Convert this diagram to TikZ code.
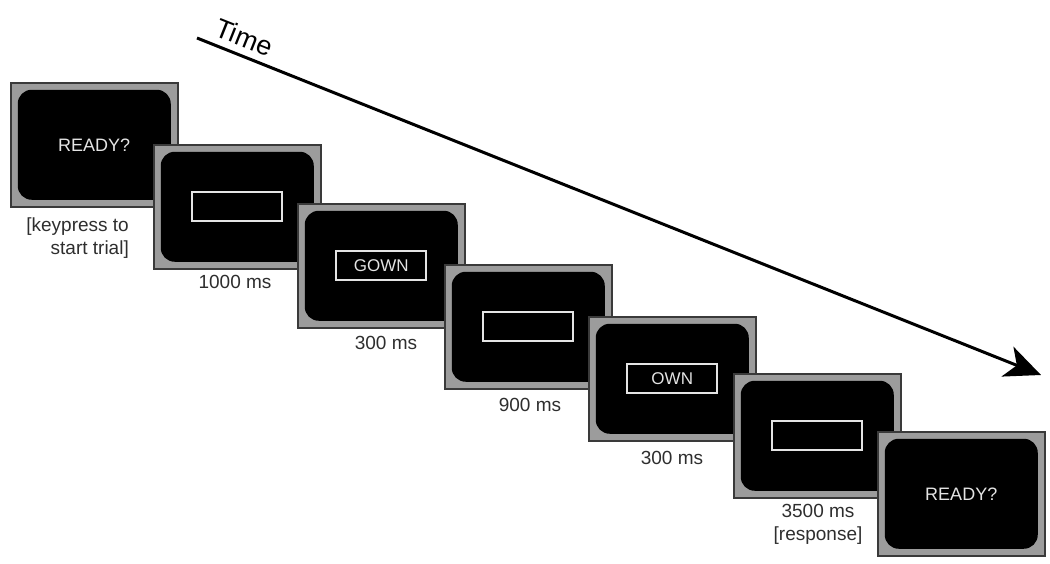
\documentclass[tikz,border=0pt]{standalone}
\usepackage{fontspec}
\setmainfont{Liberation Sans}
\usetikzlibrary{arrows.meta}
\definecolor{framegray}{HTML}{9C9C9C}
\definecolor{edgegray}{HTML}{3A3A3A}
\definecolor{labelgray}{HTML}{2E2E2E}
\definecolor{screentext}{HTML}{E4E4E4}
\tikzset{
  screen/.style={draw=edgegray, line width=1.5pt, fill=framegray, minimum width=167pt, minimum height=124pt, inner sep=0pt, anchor=north west},
  innerscreen/.style={fill=black, rounded corners=14pt, minimum width=153pt, minimum height=110pt, inner sep=0pt, text=screentext, font=\fontsize{18}{20}\selectfont},
  wordbox/.style={draw=screentext, line width=2pt, fill=black, minimum width=90pt, minimum height=29pt, inner sep=0pt, text=screentext, font=\fontsize{17}{20}\selectfont},
  lab/.style={text=labelgray, font=\fontsize{19}{23}\selectfont, inner sep=0pt},
  timearrow/.style={line width=3pt, -{Stealth[length=36pt, width=32pt, inset=10pt]}}
}
\begin{document}
\begin{tikzpicture}[x=1pt, y=-1pt]
\useasboundingbox (0,0) rectangle (1050,563);
% time arrow
\coordinate (ts) at (197,38);
\coordinate (te) at (1041,375);
\draw[timearrow] (ts) -- (te) node[pos=0.014, sloped, anchor=south west, inner sep=0pt, yshift=7pt, font=\fontsize{27}{30}\selectfont] (tlabel) {Time};
% screens
\node[screen] (s1) at (10,82) {};
\node[innerscreen] (i1) at (s1.center) {READY?};
\node[screen] (s2) at (153,144) {};
\node[innerscreen] (i2) at (s2.center) {};
\node[wordbox] (w2) at (s2.center) {};
\node[screen] (s3) at (297,203) {};
\node[innerscreen] (i3) at (s3.center) {};
\node[wordbox] (w3) at (s3.center) {GOWN};
\node[screen] (s4) at (444,264) {};
\node[innerscreen] (i4) at (s4.center) {};
\node[wordbox] (w4) at (s4.center) {};
\node[screen] (s5) at (588,316) {};
\node[innerscreen] (i5) at (s5.center) {};
\node[wordbox] (w5) at (s5.center) {OWN};
\node[screen] (s6) at (733,373) {};
\node[innerscreen] (i6) at (s6.center) {};
\node[wordbox] (w6) at (s6.center) {};
\node[screen] (s7) at (877,431) {};
\node[innerscreen] (i7) at (s7.center) {READY?};
% labels
\node[lab, align=right, anchor=east] (l1) at (129,238) {[keypress to\\{}start trial]};
\node[lab] (l2) at (235,282) {1000 ms};
\node[lab] (l3) at (386,343) {300 ms};
\node[lab] (l4) at (530,405) {900 ms};
\node[lab] (l5) at (672,458) {300 ms};
\node[lab, align=center] (l6) at (818,524) {3500 ms\\{}[response]};
\end{tikzpicture}
\end{document}
